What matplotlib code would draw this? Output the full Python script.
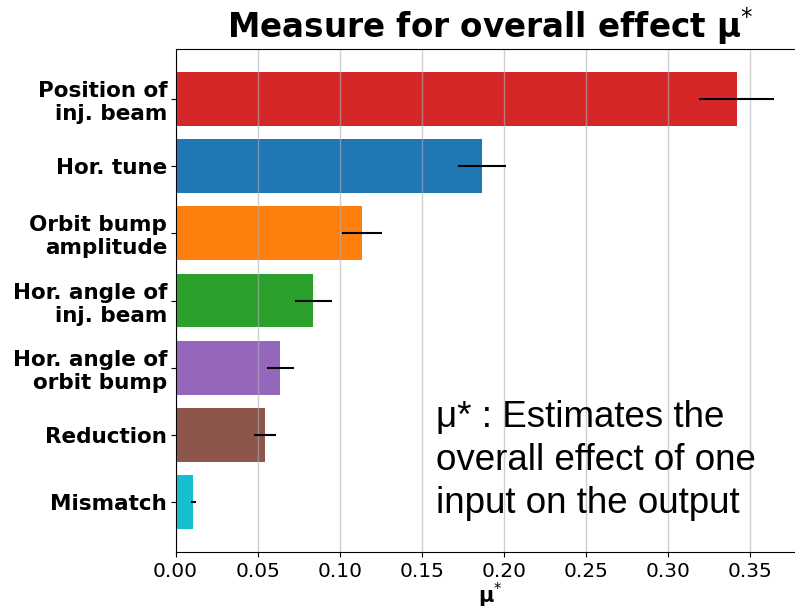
import matplotlib
matplotlib.use("Agg")
import matplotlib.pyplot as plt

categories = ["Position of\ninj. beam", "Hor. tune", "Orbit bump\namplitude",
              "Hor. angle of\ninj. beam", "Hor. angle of\norbit bump", "Reduction", "Mismatch"]
mu_star = [0.3416, 0.1868, 0.1135, 0.0839, 0.0638, 0.0547, 0.0108]
mu_star_conf = [0.0230, 0.0146, 0.0120, 0.0113, 0.0082, 0.0067, 0.0014]
colors = ["#d62728", "#1f77b4", "#ff7f0e", "#2ca02c", "#9467bd", "#8c564b", "#17becf"]
xticks = [0.00, 0.05, 0.10, 0.15, 0.20, 0.25, 0.30, 0.35]

W, H = 795, 608
fig = plt.figure(figsize=(W / 100, H / 100), dpi=100)
ax = fig.add_axes([175.5 / W, (H - 552) / H, 629 / W, (552 - 49) / H])

ax.barh(categories, mu_star, height=0.8, color=colors,
        xerr=mu_star_conf, error_kw=dict(ecolor="black", elinewidth=1.5, capsize=0))
ax.invert_yaxis()
ax.set_xlim(0, 0.383)
ax.set_xticks(xticks)
ax.set_xticklabels([f"{t:.2f}" for t in xticks], fontsize=14.5)
ax.tick_params(axis="y", pad=2.5)
for lab in ax.get_yticklabels():
    lab.set_fontsize(15.5)
    lab.set_fontweight("bold")
ax.grid(axis="x", color="#b0b0b0", linewidth=1.0, alpha=0.6)
ax.set_title("Measure for overall effect μ$^{*}$", fontsize=23.5, fontweight="bold", pad=8)
ax.set_xlabel("μ$^{*}$", fontsize=15, fontweight="bold", labelpad=0)

fig.text(436 / W, 1 - 400 / H, "μ* : Estimates the\noverall effect of one\ninput on the output",
         fontsize=26.5, family="Liberation Sans", ha="left", va="top", linespacing=1.29)

fig.savefig("out.png", dpi=100)
